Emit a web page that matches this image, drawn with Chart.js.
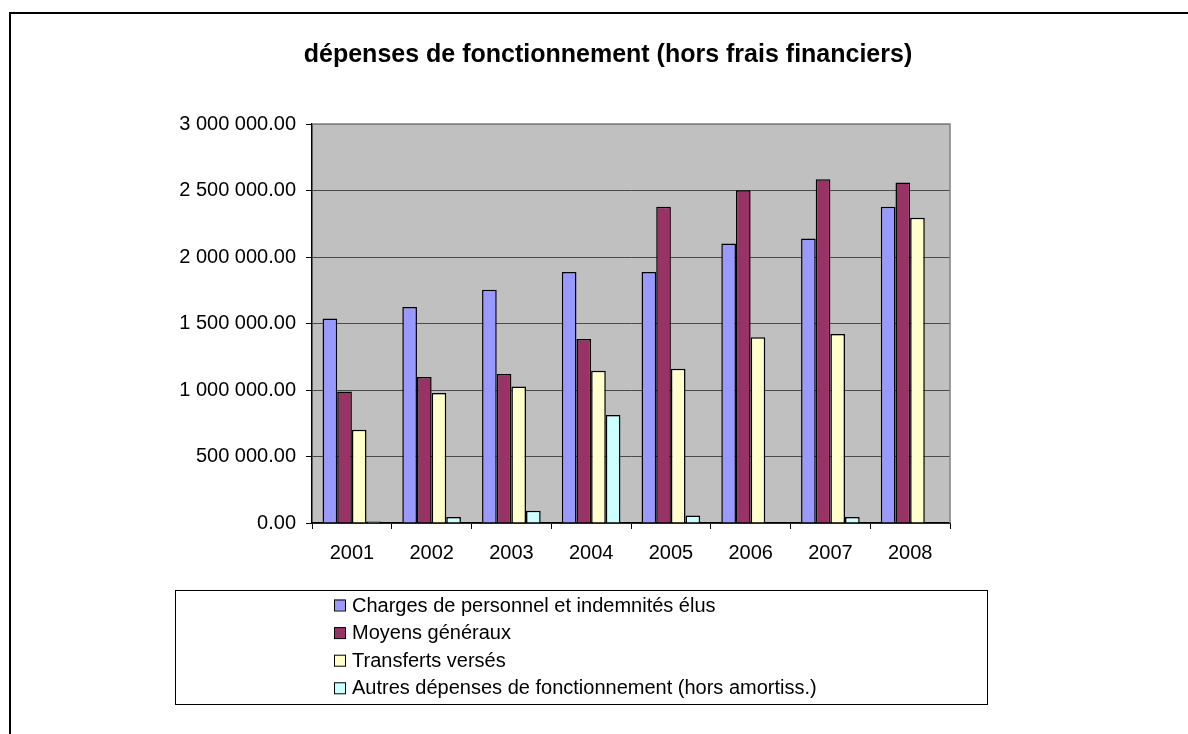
<!DOCTYPE html>
<html>
<head>
<meta charset="utf-8">
<title>dépenses de fonctionnement</title>
<script src="https://cdn.jsdelivr.net/npm/chart.js@4/dist/chart.umd.min.js"></script>
<style>
  html, body { margin: 0; padding: 0; background: #fff; overflow: hidden; }
  canvas { display: block; }
</style>
</head>
<body>
<canvas id="depChart" width="1188" height="734"></canvas>
<script>
// données
const titre = "dépenses de fonctionnement (hors frais financiers)";
const annees = ["2001", "2002", "2003", "2004", "2005", "2006", "2007", "2008"];
const series = [
  "Charges de personnel et indemnités élus",
  "Moyens généraux",
  "Transferts versés",
  "Autres dépenses de fonctionnement (hors amortiss.)"
];
const chargesPersonnel = [1538000, 1624000, 1754000, 1887000, 1887000, 2102000, 2140000, 2378000];
const moyensGeneraux   = [989000, 1098000, 1120000, 1383000, 2378000, 2501000, 2584000, 2561000];
const transfertsVerses = [701000, 977000, 1027000, 1145000, 1160000, 1396000, 1421000, 2296000];
const autresDepenses   = [12000, 45000, 92000, 812000, 57000, null, 45000, null];
const yTicks = [0, 500000, 1000000, 1500000, 2000000, 2500000, 3000000];

const couleurs = ["#9999FF", "#993366", "#FFFFCC", "#CCFFFF"];
const FONT = "'Liberation Sans', Arial, sans-serif";

Chart.defaults.font.family = FONT;
Chart.defaults.font.size = 20;
Chart.defaults.color = "#000";

function formatNombre(v) {
  const parts = Number(v).toFixed(2).split(".");
  return parts[0].replace(/\B(?=(\d{3})+(?!\d))/g, " ") + "." + parts[1];
}

// fond gris, cadre, titre et légende
const decorPlugin = {
  id: "decor",
  beforeDraw(chart) {
    const { ctx, chartArea: a } = chart;
    ctx.save();
    ctx.fillStyle = "#C0C0C0";
    ctx.fillRect(a.left, a.top, a.right - a.left, a.bottom - a.top);
    ctx.restore();
  },
  afterDraw(chart) {
    const { ctx, chartArea: a } = chart;
    ctx.save();
    // bord du graphique (haut + droite en gris)
    ctx.strokeStyle = "#808080";
    ctx.lineWidth = 1.5;
    ctx.beginPath();
    ctx.moveTo(a.left, a.top);
    ctx.lineTo(a.right, a.top);
    ctx.lineTo(a.right, a.bottom);
    ctx.stroke();

    // cadre extérieur
    ctx.strokeStyle = "#000";
    ctx.lineWidth = 2;
    ctx.beginPath();
    ctx.moveTo(10, 740);
    ctx.lineTo(10, 13);
    ctx.lineTo(1200, 13);
    ctx.stroke();

    // titre
    ctx.fillStyle = "#000";
    ctx.font = "bold 25px " + FONT;
    ctx.textAlign = "center";
    ctx.textBaseline = "middle";
    ctx.fillText(titre, 608, 55);

    // légende
    ctx.strokeStyle = "#000";
    ctx.lineWidth = 1;
    ctx.strokeRect(175.5, 590.5, 812, 114);
    ctx.font = "20px " + FONT;
    ctx.textAlign = "left";
    chart.data.datasets.forEach((ds, i) => {
      const y = 605 + i * 27.6;
      ctx.fillStyle = ds.backgroundColor;
      ctx.fillRect(334, y - 5.5, 11, 11);
      ctx.strokeRect(334.5, y - 5, 11, 11);
      ctx.fillStyle = "#000";
      ctx.fillText(ds.label, 352, y + 1);
    });
    ctx.restore();
  }
};

const valeurs = [chargesPersonnel, moyensGeneraux, transfertsVerses, autresDepenses];

new Chart(document.getElementById("depChart"), {
  type: "bar",
  data: {
    labels: annees,
    datasets: series.map((nom, i) => ({
      label: nom,
      data: valeurs[i],
      backgroundColor: couleurs[i],
      borderColor: "#000",
      borderWidth: 1.5,
      categoryPercentage: 0.735,
      barPercentage: 1.0
    }))
  },
  options: {
    responsive: false,
    animation: false,
    devicePixelRatio: 1,
    layout: { padding: { top: 124, right: 238, left: 0, bottom: 0 } },
    plugins: {
      legend: { display: false },
      title: { display: false },
      tooltip: { enabled: false }
    },
    scales: {
      x: {
        grid: { display: true, drawOnChartArea: false, offset: true, tickLength: 6, tickColor: "#000" },
        border: { color: "#000", width: 1.5 },
        ticks: { padding: 12, maxRotation: 0 },
        afterFit(scale) { scale.height = 211; }
      },
      y: {
        min: 0,
        max: 3000000,
        afterBuildTicks(scale) { scale.ticks = yTicks.map(v => ({ value: v })); },
        grid: {
          color: c => (c.tick && c.tick.value === 3000000 ? "#808080" : "#4a4a4a"),
          lineWidth: 1,
          tickLength: 6,
          tickColor: "#000"
        },
        border: { color: "#000", width: 1.5 },
        ticks: { padding: 10, callback: v => formatNombre(v) },
        afterFit(scale) { scale.width = 312; }
      }
    }
  },
  plugins: [decorPlugin]
});
</script>
</body>
</html>
